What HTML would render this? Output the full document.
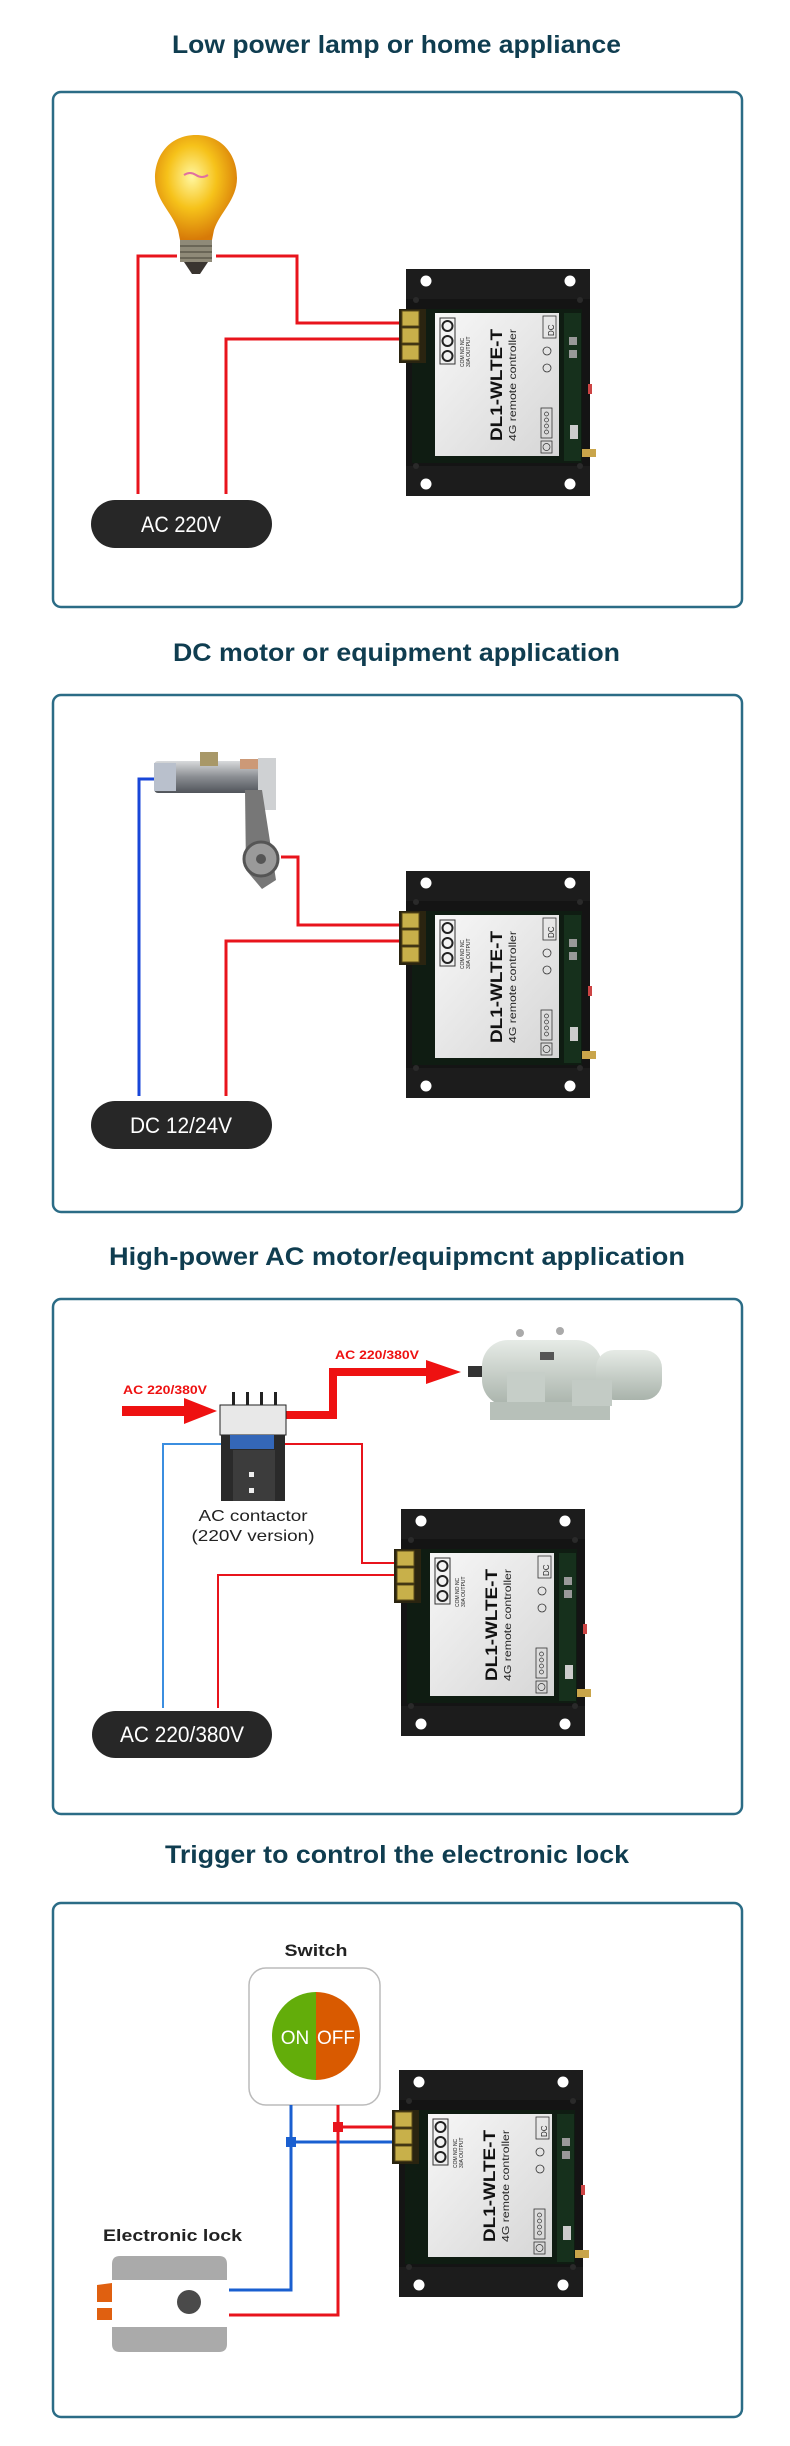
<!DOCTYPE html>
<html><head><meta charset="utf-8"><style>
html,body{margin:0;padding:0;background:#fff;}
svg{display:block;}
text{font-family:"Liberation Sans",sans-serif;}
</style></head><body>
<svg width="790" height="2446" viewBox="0 0 790 2446" xmlns="http://www.w3.org/2000/svg">
<defs>
<linearGradient id="lg" x1="0" y1="0" x2="1" y2="1"><stop offset="0" stop-color="#f7f7f7"/><stop offset="1" stop-color="#d6d6d6"/></linearGradient>
<radialGradient id="bulb" cx="0.45" cy="0.4" r="0.6"><stop offset="0" stop-color="#fff7a0"/><stop offset="0.5" stop-color="#f6c21a"/><stop offset="1" stop-color="#d77a08"/></radialGradient>
<linearGradient id="mg" x1="0" y1="0" x2="0" y2="1"><stop offset="0" stop-color="#e6ebe6"/><stop offset="1" stop-color="#a9b3ab"/></linearGradient>
<linearGradient id="cyl" x1="0" y1="0" x2="0" y2="1"><stop offset="0" stop-color="#d8dadc"/><stop offset="0.5" stop-color="#8a8d92"/><stop offset="1" stop-color="#50545a"/></linearGradient>
<g id="dev">
<rect x="0" y="0" width="184" height="227" fill="#141414"/>
<rect x="0" y="0" width="184" height="30" fill="#1c1c1c"/>
<rect x="0" y="197" width="184" height="30" fill="#1c1c1c"/>
<circle cx="20" cy="12" r="5.5" fill="#fff"/><circle cx="164" cy="12" r="5.5" fill="#fff"/>
<circle cx="20" cy="215" r="5.5" fill="#fff"/><circle cx="164" cy="215" r="5.5" fill="#fff"/>
<circle cx="10" cy="31" r="3" fill="#2a2a2a"/><circle cx="174" cy="31" r="3" fill="#2a2a2a"/>
<circle cx="10" cy="197" r="3" fill="#2a2a2a"/><circle cx="174" cy="197" r="3" fill="#2a2a2a"/>
<rect x="6" y="40" width="170" height="154" fill="#0f1c12"/>
<rect x="29" y="44" width="124" height="143" fill="url(#lg)"/>
<rect x="158" y="44" width="17" height="148" fill="#16301c"/>
<rect x="163" y="68" width="8" height="8" fill="#999"/><rect x="163" y="81" width="8" height="8" fill="#999"/>
<rect x="164" y="156" width="8" height="14" fill="#ccc"/>
<rect x="176" y="180" width="14" height="8" fill="#c9a54a"/>
<rect x="182" y="115" width="4" height="10" fill="#c44"/>
<rect x="-7" y="40" width="27" height="54" fill="#2a2410"/>
<rect x="-4" y="42" width="17" height="15" fill="#c8b04a" stroke="#5a4a18"/>
<rect x="-4" y="59" width="17" height="15" fill="#c8b04a" stroke="#5a4a18"/>
<rect x="-4" y="76" width="17" height="15" fill="#c8b04a" stroke="#5a4a18"/>
<rect x="34" y="49" width="15" height="46" fill="none" stroke="#333" stroke-width="1"/>
<circle cx="41.5" cy="57" r="5" fill="none" stroke="#222" stroke-width="2"/>
<circle cx="41.5" cy="72" r="5" fill="none" stroke="#222" stroke-width="2"/>
<circle cx="41.5" cy="87" r="5" fill="none" stroke="#222" stroke-width="2"/>
<text transform="translate(58,98) rotate(-90)" font-size="5" fill="#222">COM  NO  NC</text>
<text transform="translate(64,98) rotate(-90)" font-size="5" fill="#222">30A OUTPUT</text>
<text transform="translate(96,172) rotate(-90)" font-size="17" font-weight="bold" fill="#111" textLength="112" lengthAdjust="spacingAndGlyphs">DL1-WLTE-T</text>
<text transform="translate(110,172) rotate(-90)" font-size="10.5" fill="#222" textLength="112" lengthAdjust="spacingAndGlyphs">4G remote controller</text>
<rect x="137" y="47" width="13" height="22" fill="none" stroke="#333" stroke-width="0.8"/>
<text transform="translate(148,67) rotate(-90)" font-size="8" fill="#222">DC</text>
<circle cx="141" cy="82" r="4" fill="none" stroke="#333" stroke-width="0.8"/>
<circle cx="141" cy="99" r="4" fill="none" stroke="#333" stroke-width="0.8"/>
<rect x="135" y="139" width="11" height="30" fill="none" stroke="#333" stroke-width="0.8"/>
<circle cx="140.5" cy="145" r="2" fill="none" stroke="#333" stroke-width="0.7"/><circle cx="140.5" cy="151" r="2" fill="none" stroke="#333" stroke-width="0.7"/><circle cx="140.5" cy="157" r="2" fill="none" stroke="#333" stroke-width="0.7"/><circle cx="140.5" cy="163" r="2" fill="none" stroke="#333" stroke-width="0.7"/>
<rect x="135" y="172" width="11" height="12" fill="none" stroke="#333" stroke-width="0.8"/>
<circle cx="140.5" cy="178" r="3.5" fill="none" stroke="#333" stroke-width="0.7"/>
</g>
</defs>

<!-- Titles -->
<g fill="#0f3d50" font-weight="bold" font-size="25">
<text x="172" y="53" textLength="449" lengthAdjust="spacingAndGlyphs">Low power lamp or home appliance</text>
<text x="173" y="661" textLength="447" lengthAdjust="spacingAndGlyphs">DC motor or equipment application</text>
<text x="109" y="1265" textLength="576" lengthAdjust="spacingAndGlyphs">High-power AC motor/equipmcnt application</text>
<text x="165" y="1863" textLength="464" lengthAdjust="spacingAndGlyphs">Trigger to control the electronic lock</text>
</g>

<!-- Boxes -->
<g fill="none" stroke="#2b6c86" stroke-width="2.5">
<rect x="53" y="92" width="689" height="515" rx="8"/>
<rect x="53" y="695" width="689" height="517" rx="8"/>
<rect x="53" y="1299" width="689" height="515" rx="8"/>
<rect x="53" y="1903" width="689" height="514" rx="8"/>
</g>

<!-- Section 1 -->
<g fill="none" stroke="#e8141c" stroke-width="3">
<polyline points="138,494 138,256 177,256"/>
<polyline points="216,256 297,256 297,323 400,323"/>
<polyline points="226,494 226,339 400,339"/>
</g>
<path d="M196,135 C170,135 155,155 155,178 C155,200 172,212 178,230 L180,240 L212,240 L214,230 C220,212 237,200 237,178 C237,155 222,135 196,135 Z" fill="url(#bulb)"/>
<path d="M184,175 q6,-4 12,0 q6,4 12,0" stroke="#e070a0" stroke-width="2" fill="none"/>
<rect x="180" y="240" width="32" height="22" fill="#8f8a78"/>
<g stroke="#5e5a4c" stroke-width="1.5"><line x1="180" y1="246" x2="212" y2="246"/><line x1="180" y1="252" x2="212" y2="252"/><line x1="180" y1="258" x2="212" y2="258"/></g>
<path d="M184,262 L208,262 L200,274 L192,274 Z" fill="#3a3530"/>
<rect x="91" y="500" width="181" height="48" rx="24" fill="#272727"/>
<text x="181" y="532" fill="#fff" font-size="22" text-anchor="middle" textLength="80" lengthAdjust="spacingAndGlyphs">AC 220V</text>
<use href="#dev" x="406" y="269"/>

<!-- Section 2 -->
<polyline points="154,779 139,779 139,1096" fill="none" stroke="#1846d8" stroke-width="3"/>
<g fill="none" stroke="#e8141c" stroke-width="3">
<polyline points="281,857 298,857 298,925 400,925"/>
<polyline points="226,1096 226,941 400,941"/>
</g>
<rect x="154" y="761" width="115" height="32" rx="4" fill="url(#cyl)"/>
<rect x="154" y="763" width="22" height="28" fill="#b9c0cc"/>
<rect x="200" y="752" width="18" height="14" fill="#a89868"/>
<rect x="240" y="759" width="18" height="10" fill="#c97"/>
<rect x="258" y="758" width="18" height="52" fill="#cfd1d3"/>
<path d="M245,790 L262,790 L276,880 L262,889 L246,870 Z" fill="#777"/>
<circle cx="261" cy="859" r="17" fill="#9a9a9a" stroke="#555" stroke-width="3"/>
<circle cx="261" cy="859" r="5" fill="#555"/>
<rect x="91" y="1101" width="181" height="48" rx="24" fill="#272727"/>
<text x="181" y="1133" fill="#fff" font-size="22" text-anchor="middle" textLength="102" lengthAdjust="spacingAndGlyphs">DC 12/24V</text>
<use href="#dev" x="406" y="871"/>

<!-- Section 3 -->
<polyline points="225,1444 163,1444 163,1708" fill="none" stroke="#3b8ee0" stroke-width="2"/>
<g fill="none" stroke="#e8141c" stroke-width="2">
<polyline points="273,1444 362,1444 362,1563 395,1563"/>
<polyline points="218,1708 218,1575 395,1575"/>
</g>
<rect x="122" y="1406" width="64" height="10" fill="#ee1111"/>
<polygon points="184,1398 217,1411 184,1424" fill="#ee1111"/>
<polyline points="284,1415 333,1415 333,1372 428,1372" fill="none" stroke="#ee1111" stroke-width="8"/>
<polygon points="426,1360 461,1372 426,1384" fill="#ee1111"/>
<text x="123" y="1394" fill="#ee1111" font-size="12" font-weight="bold" textLength="84" lengthAdjust="spacingAndGlyphs">AC 220/380V</text>
<text x="335" y="1359" fill="#ee1111" font-size="12" font-weight="bold" textLength="84" lengthAdjust="spacingAndGlyphs">AC 220/380V</text>
<!-- contactor -->
<g>
<rect x="232" y="1392" width="3" height="18" fill="#222"/><rect x="246" y="1392" width="3" height="18" fill="#222"/><rect x="260" y="1392" width="3" height="18" fill="#222"/><rect x="274" y="1392" width="3" height="18" fill="#222"/>
<rect x="220" y="1405" width="66" height="30" fill="#e8e8e8" stroke="#222" stroke-width="1"/>
<rect x="230" y="1435" width="44" height="14" fill="#2f62b0"/>
<rect x="221" y="1435" width="64" height="66" fill="#2a2a2a"/>
<rect x="233" y="1450" width="42" height="51" fill="#3c3c3c"/>
<rect x="230" y="1435" width="44" height="14" fill="#3467b8"/>
<rect x="249" y="1472" width="5" height="5" fill="#eee"/><rect x="249" y="1488" width="5" height="5" fill="#eee"/>
</g>
<text x="253" y="1521" fill="#222" font-size="16" text-anchor="middle" textLength="109" lengthAdjust="spacingAndGlyphs">AC contactor</text>
<text x="253" y="1541" fill="#222" font-size="16" text-anchor="middle" textLength="123" lengthAdjust="spacingAndGlyphs">(220V version)</text>
<!-- motor -->
<g>
<rect x="468" y="1366" width="16" height="11" fill="#333"/>
<rect x="482" y="1340" width="120" height="66" rx="26" fill="url(#mg)"/>
<rect x="596" y="1350" width="66" height="50" rx="18" fill="url(#mg)"/>
<rect x="507" y="1372" width="38" height="40" fill="#c6cec8"/>
<rect x="490" y="1402" width="120" height="18" fill="#b7c0b9"/>
<rect x="572" y="1380" width="40" height="26" fill="#c3cbc5"/>
<rect x="540" y="1352" width="14" height="8" fill="#555"/>
<circle cx="520" cy="1333" r="4" fill="#aaa"/><circle cx="560" cy="1331" r="4" fill="#aaa"/>
</g>
<rect x="92" y="1711" width="180" height="47" rx="23.5" fill="#272727"/>
<text x="182" y="1742" fill="#fff" font-size="22" text-anchor="middle" textLength="124" lengthAdjust="spacingAndGlyphs">AC 220/380V</text>
<use href="#dev" x="401" y="1509"/>

<!-- Section 4 -->
<text x="316" y="1956" fill="#222" font-size="17" font-weight="bold" text-anchor="middle" textLength="63" lengthAdjust="spacingAndGlyphs">Switch</text>
<rect x="249" y="1968" width="131" height="137" rx="17" fill="#fff" stroke="#bbb" stroke-width="1.5"/>
<path d="M316,1992 A44,44 0 0,0 316,2080 Z" fill="#63ad0a"/>
<path d="M316,1992 A44,44 0 0,1 316,2080 Z" fill="#d95a00"/>
<text x="295" y="2044" fill="#fff" font-size="19" text-anchor="middle">ON</text>
<text x="336" y="2044" fill="#fff" font-size="19" text-anchor="middle">OFF</text>
<g fill="none" stroke="#1a5fd0" stroke-width="3">
<polyline points="291,2105 291,2290 229,2290"/>
<polyline points="291,2142 394,2142"/>
</g>
<g fill="none" stroke="#e8141c" stroke-width="3">
<polyline points="338,2105 338,2315 229,2315"/>
<polyline points="338,2127 394,2127"/>
</g>
<rect x="286" y="2137" width="10" height="10" fill="#1a5fd0"/>
<rect x="333" y="2122" width="10" height="10" fill="#e8141c"/>
<text x="103" y="2241" fill="#222" font-size="17" font-weight="bold" textLength="139" lengthAdjust="spacingAndGlyphs">Electronic lock</text>
<path d="M112,2280 L112,2264 Q112,2256 120,2256 L219,2256 Q227,2256 227,2264 L227,2280 Z" fill="#aaaaaa"/>
<path d="M112,2327 L227,2327 L227,2344 Q227,2352 219,2352 L120,2352 Q112,2352 112,2344 Z" fill="#aaaaaa"/>
<ellipse cx="189" cy="2302" rx="12" ry="12" fill="#4a4a4a"/>
<polygon points="97,2285 112,2283 112,2302 97,2302" fill="#e06010"/>
<rect x="97" y="2308" width="15" height="12" fill="#e06010"/>
<use href="#dev" x="399" y="2070"/>
</svg>
</body></html>
